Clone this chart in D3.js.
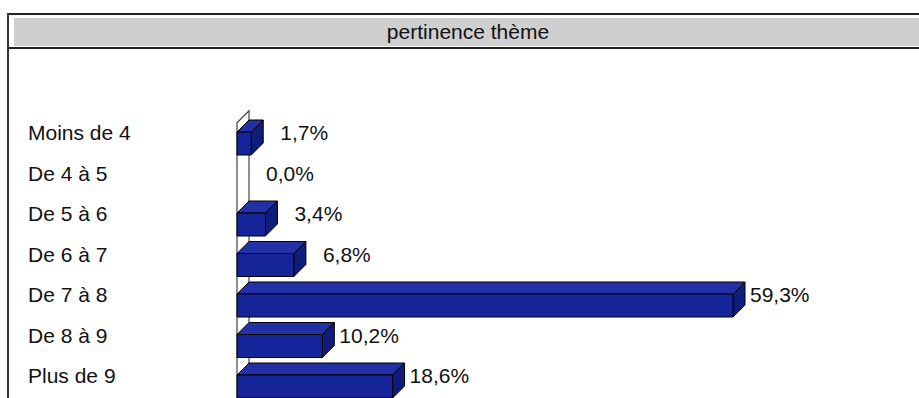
<!DOCTYPE html>
<html lang="fr">
<head>
  <meta charset="UTF-8">
  <title>pertinence thème</title>
  <script src="https://d3js.org/d3.v7.min.js"></script>
  <style>
    body { margin: 0; background: #fff; }
    svg text { font-family: 'Liberation Sans', Arial, sans-serif; fill: #111; }
  </style>
</head>
<body>
<svg width="919" height="398"></svg>
<script>
  const title = "pertinence thème";
  const categories = ["Moins de 4", "De 4 à 5", "De 5 à 6", "De 6 à 7", "De 7 à 8", "De 8 à 9", "Plus de 9"];
  const values = [1.7, 0.0, 3.4, 6.8, 59.3, 10.2, 18.6];

  const svg = d3.select("svg"),
        width = +svg.attr("width"),
        height = +svg.attr("height");

  const depth = 12; // 3d offset of the bars

  const x = d3.scaleLinear().domain([0, 59.3]).range([237, 733]);
  const y = d3.scaleBand().domain(categories).range([112.75, 396.25]);
  const cy = d => y(d) + y.bandwidth() / 2;

  // frame + title band
  svg.append("rect").attr("x", 14).attr("y", 18).attr("width", width - 14).attr("height", 28).attr("fill", "#cfcfcf");
  svg.append("line").attr("x1", 8).attr("x2", width).attr("y1", 14).attr("y2", 14).attr("stroke", "#222").attr("stroke-width", 2);
  svg.append("line").attr("x1", 8).attr("x2", width).attr("y1", 48).attr("y2", 48).attr("stroke", "#222").attr("stroke-width", 2);
  svg.append("line").attr("x1", 8).attr("x2", 8).attr("y1", 13).attr("y2", height).attr("stroke", "#333").attr("stroke-width", 2);

  svg.append("text")
    .attr("x", 468).attr("y", 32).attr("dy", "0.35em")
    .attr("text-anchor", "middle").attr("font-size", "21px")
    .text(title);

  // left wall of the 3d plot
  const wx = x(0), wTop = y.range()[0] + 10;
  svg.append("path")
    .attr("d", `M${wx},${height + 5}L${wx},${wTop}L${wx + depth},${wTop - depth}L${wx + depth},${height + 5}`)
    .attr("fill", "#fff").attr("stroke", "#444").attr("stroke-width", 1.2);

  // category labels
  svg.append("g").selectAll("text")
    .data(categories)
    .join("text")
    .attr("x", 28).attr("y", d => cy(d)).attr("dy", "0.35em")
    .attr("font-size", "21px")
    .text(d => d);

  const data = categories.map((c, i) => ({ c, v: values[i] }));

  const bar = svg.append("g").selectAll("g")
    .data(data.filter(d => d.v > 0))
    .join("g")
    .attr("stroke", "#000").attr("stroke-width", 1).attr("stroke-linejoin", "round");

  // top face
  bar.append("path")
    .attr("fill", "#2232a6")
    .attr("d", d => {
      const x0 = x(0), x1 = x(d.v), t = cy(d.c) - 1;
      return `M${x0},${t}L${x1},${t}L${x1 + depth},${t - depth}L${x0 + depth},${t - depth}Z`;
    });
  // side face
  bar.append("path")
    .attr("fill", "#101c7c")
    .attr("d", d => {
      const x1 = x(d.v), t = cy(d.c) - 1, b = cy(d.c) + 22;
      return `M${x1},${t}L${x1 + depth},${t - depth}L${x1 + depth},${b - depth}L${x1},${b}Z`;
    });
  // front face
  bar.append("rect")
    .attr("fill", "#16249a")
    .attr("x", x(0))
    .attr("y", d => cy(d.c) - 1)
    .attr("width", d => x(d.v) - x(0))
    .attr("height", 23);

  // value labels
  svg.append("g").selectAll("text")
    .data(data)
    .join("text")
    .attr("x", d => x(d.v) + depth + (d.v < 8 ? 17 : 5))
    .attr("y", d => cy(d.c)).attr("dy", "0.35em")
    .attr("font-size", "21px")
    .text(d => d.v.toFixed(1).replace(".", ",") + "%");
</script>
</body>
</html>
